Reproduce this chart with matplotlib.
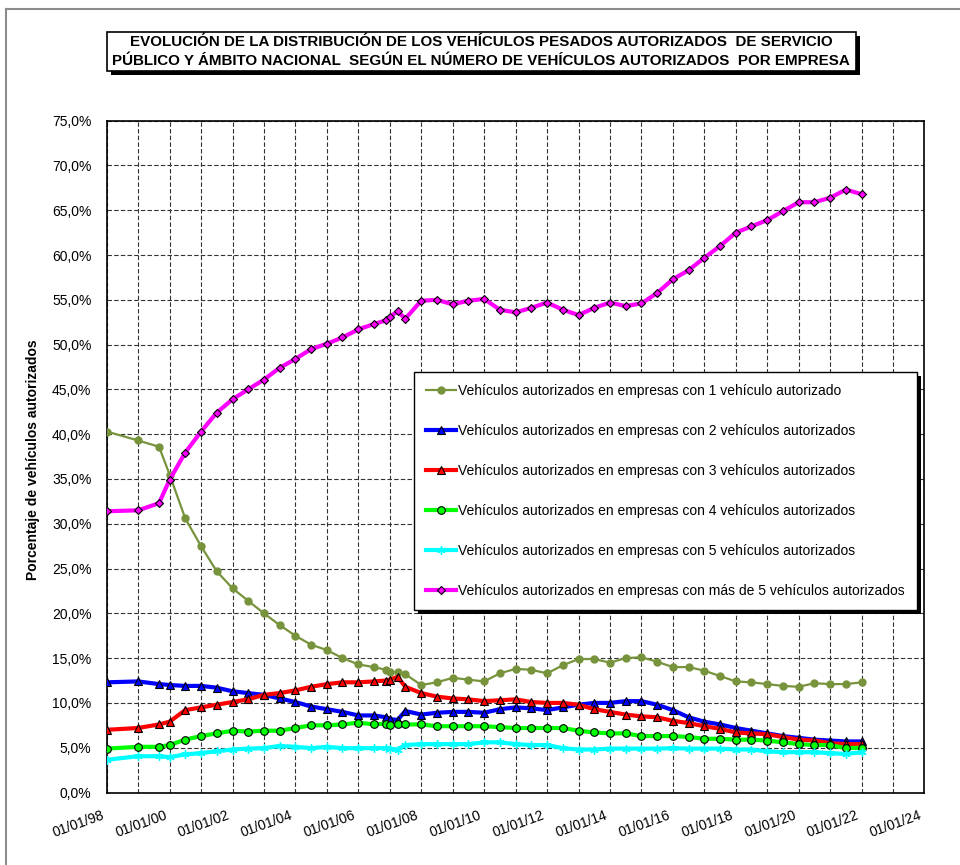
import matplotlib
matplotlib.use("Agg")
import matplotlib.pyplot as plt
import matplotlib.dates as mdates
from matplotlib.patches import Rectangle
from matplotlib.ticker import FuncFormatter, MultipleLocator
from matplotlib.transforms import ScaledTranslation
import pandas as pd

plt.rcParams["font.family"] = ["Liberation Sans", "DejaVu Sans"]

# ---- data ----
fechas = pd.to_datetime([
    "1998-01-01", "1999-01-01", "1999-09-01", "2000-01-01", "2000-07-01",
    "2001-01-01", "2001-07-01", "2002-01-01", "2002-07-01", "2003-01-01",
    "2003-07-01", "2004-01-01", "2004-07-01", "2005-01-01", "2005-07-01",
    "2006-01-01", "2006-07-01", "2006-11-15", "2007-01-01", "2007-04-01",
    "2007-07-01", "2008-01-01", "2008-07-01", "2009-01-01", "2009-07-01",
    "2010-01-01", "2010-07-01", "2011-01-01", "2011-07-01", "2012-01-01",
    "2012-07-01", "2013-01-01", "2013-07-01", "2014-01-01", "2014-07-01",
    "2015-01-01", "2015-07-01", "2016-01-01", "2016-07-01", "2017-01-01",
    "2017-07-01", "2018-01-01", "2018-07-01", "2019-01-01", "2019-07-01",
    "2020-01-01", "2020-07-01", "2021-01-01", "2021-07-01", "2022-01-01",
])

con_1 = [40.3, 39.3, 38.6, 35.5, 30.6, 27.5, 24.7, 22.8, 21.4, 20.0,
         18.7, 17.5, 16.5, 15.9, 15.0, 14.3, 14.0, 13.7, 13.5, 13.4,
         13.2, 12.0, 12.3, 12.8, 12.6, 12.4, 13.3, 13.8, 13.7, 13.3,
         14.2, 14.9, 14.9, 14.5, 15.0, 15.1, 14.6, 14.0, 14.0, 13.6,
         13.0, 12.4, 12.3, 12.1, 11.9, 11.8, 12.2, 12.1, 12.1, 12.3]
con_2 = [12.3, 12.4, 12.1, 12.0, 11.9, 11.9, 11.7, 11.3, 11.1, 10.9,
         10.5, 10.1, 9.6, 9.3, 9.0, 8.6, 8.6, 8.4, 8.2, 8.1,
         9.1, 8.7, 8.9, 9.0, 9.0, 8.9, 9.3, 9.5, 9.4, 9.2,
         9.5, 9.8, 10.0, 10.0, 10.2, 10.2, 9.8, 9.2, 8.4, 7.9,
         7.6, 7.2, 6.9, 6.6, 6.3, 6.1, 5.9, 5.8, 5.7, 5.7]
con_3 = [7.0, 7.2, 7.6, 7.9, 9.2, 9.5, 9.8, 10.1, 10.4, 10.9,
         11.1, 11.4, 11.8, 12.1, 12.3, 12.3, 12.4, 12.5, 12.6, 12.9,
         11.8, 11.1, 10.7, 10.5, 10.4, 10.2, 10.3, 10.4, 10.1, 10.0,
         10.0, 9.8, 9.3, 9.0, 8.7, 8.5, 8.4, 8.0, 7.75, 7.4,
         7.1, 6.7, 6.6, 6.5, 6.2, 5.9, 5.8, 5.5, 5.4, 5.4]
con_4 = [4.9, 5.1, 5.1, 5.3, 5.9, 6.3, 6.6, 6.9, 6.8, 6.9,
         6.9, 7.2, 7.5, 7.5, 7.6, 7.8, 7.6, 7.7, 7.5, 7.6,
         7.6, 7.6, 7.4, 7.4, 7.4, 7.4, 7.3, 7.2, 7.2, 7.2,
         7.2, 6.9, 6.7, 6.6, 6.6, 6.3, 6.3, 6.3, 6.2, 6.0,
         6.0, 5.9, 5.9, 5.8, 5.6, 5.4, 5.3, 5.3, 4.95, 5.0]
con_5 = [3.65, 4.05, 4.05, 3.95, 4.25, 4.4, 4.6, 4.8, 4.9, 4.95,
         5.2, 5.1, 4.95, 5.1, 4.95, 4.95, 4.95, 4.95, 4.9, 4.8,
         5.3, 5.4, 5.4, 5.4, 5.4, 5.6, 5.6, 5.4, 5.3, 5.3,
         4.95, 4.8, 4.8, 4.9, 4.9, 4.9, 4.9, 4.95, 4.9, 4.9,
         4.9, 4.8, 4.8, 4.6, 4.5, 4.5, 4.5, 4.4, 4.3, 4.5]
mas_5 = [31.4, 31.5, 32.3, 34.9, 37.95, 40.3, 42.4, 43.9, 45.0, 46.1,
         47.4, 48.4, 49.5, 50.1, 50.8, 51.7, 52.3, 52.7, 53.1, 53.7,
         52.9, 54.9, 55.0, 54.5, 54.9, 55.1, 53.9, 53.6, 54.1, 54.7,
         53.9, 53.3, 54.1, 54.7, 54.3, 54.6, 55.75, 57.3, 58.3, 59.7,
         61.0, 62.5, 63.2, 63.9, 64.9, 65.9, 65.9, 66.4, 67.3, 66.8]

etiquetas = [
    "Vehículos autorizados en empresas con 1 vehículo autorizado",
    "Vehículos autorizados en empresas con 2 vehículos autorizados",
    "Vehículos autorizados en empresas con 3 vehículos autorizados",
    "Vehículos autorizados en empresas con 4 vehículos autorizados",
    "Vehículos autorizados en empresas con 5 vehículos autorizados",
    "Vehículos autorizados en empresas con más de 5 vehículos autorizados",
]
titulo = ["EVOLUCIÓN DE LA DISTRIBUCIÓN DE LOS VEHÍCULOS PESADOS AUTORIZADOS  DE SERVICIO",
          "PÚBLICO Y ÁMBITO NACIONAL  SEGÚN EL NÚMERO DE VEHÍCULOS AUTORIZADOS  POR EMPRESA"]

W, H = 960, 865
def fx(px):
    return px / W
def fy(py):
    return 1 - py / H

fig = plt.figure(figsize=(9.6, 8.65), dpi=100)
ax = fig.add_axes([fx(106.7), fy(792.5), (924.5 - 106.7) / W, (792.5 - 120.7) / H])

# series
ax.plot(fechas, con_1, color="#77933C", lw=1.6, marker="o", ms=5,
        mfc="#77933C", mec="#77933C", label=etiquetas[0], zorder=3)
ax.plot(fechas, con_2, color="#0000FF", lw=3, marker="^", ms=5.5,
        mfc="#0000FF", mec="black", mew=0.8, label=etiquetas[1], zorder=3)
ax.plot(fechas, con_3, color="#FF0000", lw=3, marker="^", ms=5.5,
        mfc="#FF0000", mec="black", mew=0.8, label=etiquetas[2], zorder=3)
ax.plot(fechas, con_4, color="#00FF00", lw=3, marker="o", ms=5.5,
        mfc="#00FF00", mec="black", mew=0.8, label=etiquetas[3], zorder=3)
ax.plot(fechas, con_5, color="#00FFFF", lw=3, marker=(6, 2, 0), ms=6,
        mfc="#00FFFF", mec="#00FFFF", mew=1, label=etiquetas[4], zorder=3)
ax.plot(fechas, mas_5, color="#FF00FF", lw=3, marker="D", ms=4.5,
        mfc="#FF00FF", mec="black", mew=0.8, label=etiquetas[5], zorder=3)

# axes
ax.set_xlim(pd.Timestamp("1998-01-01"), pd.Timestamp("2024-01-01"))
ax.set_ylim(0, 75)
ax.xaxis.set_major_locator(mdates.YearLocator(2))
ax.xaxis.set_minor_locator(mdates.YearLocator(1))
ax.xaxis.set_major_formatter(mdates.DateFormatter("%d/%m/%y"))
ax.yaxis.set_major_locator(MultipleLocator(5))
ax.yaxis.set_major_formatter(FuncFormatter(lambda v, p: f"{v:.1f}%".replace(".", ",")))
ax.grid(which="both", axis="x", color="#333333", lw=0.8, ls=(0, (4, 2)))
ax.grid(which="major", axis="y", color="#333333", lw=0.8, ls=(0, (4, 2)))
ax.set_axisbelow(True)
ax.tick_params(axis="both", which="both", length=0)
ax.tick_params(axis="y", labelsize=10, pad=11)
ax.tick_params(axis="x", labelsize=10, pad=11)
for lab in ax.get_xticklabels():
    lab.set_rotation(20)
    lab.set_ha("right")
    lab.set_va("top")
    lab.set_rotation_mode("anchor")
    lab.set_transform(lab.get_transform() + ScaledTranslation(-4 / 72, 0, fig.dpi_scale_trans))
for s in ax.spines.values():
    s.set_color("black")
    s.set_linewidth(1.2)
fig.text(fx(33), fy(460), "Porcentaje de vehículos autorizados", rotation=90,
         ha="center", va="center", fontsize=10, fontweight="bold")

# legend with shadow (figure level so the shadow can sit under it)
handles, labels = ax.get_legend_handles_labels()
leg = fig.legend(handles, labels, loc="upper left", bbox_to_anchor=(fx(414), fy(371.7)),
                 bbox_transform=fig.transFigure, borderaxespad=0, fontsize=10,
                 frameon=True, fancybox=False, edgecolor="black", framealpha=1,
                 handlelength=2.2, handletextpad=0.15, labelspacing=1.88,
                 borderpad=0.85)
leg.get_frame().set_linewidth(1.0)
leg.set_zorder(10)

# title box with shadow
fig.add_artist(Rectangle((fx(110.7), fy(75)), (856 - 106.7) / W, (71 - 31.7) / H,
                         transform=fig.transFigure, fc="black", ec="none", zorder=1))
fig.add_artist(Rectangle((fx(106.7), fy(71)), (856 - 106.7) / W, (71 - 31.7) / H,
                         transform=fig.transFigure, fc="white", ec="black", lw=1.2, zorder=2))
fig.text(fx(481), fy(42.3), titulo[0], ha="center", va="center", fontsize=10.9,
         fontweight="bold", zorder=3)
fig.text(fx(481), fy(61), titulo[1], ha="center", va="center", fontsize=10.9,
         fontweight="bold", zorder=3)

# chart-area border (gray)
fig.add_artist(plt.Line2D([fx(6), 1], [fy(9), fy(9)], transform=fig.transFigure,
                          color="#8c8c8c", lw=1.5))
fig.add_artist(plt.Line2D([fx(6), fx(6)], [fy(9), 0], transform=fig.transFigure,
                          color="#8c8c8c", lw=1.5))

# shadow under the legend, sized from the drawn legend box
fig.canvas.draw()
bb = leg.get_window_extent().transformed(fig.transFigure.inverted())
fig.add_artist(Rectangle((bb.x0 + 4 / W, bb.y0 - 4 / H), bb.width, bb.height,
                         transform=fig.transFigure, fc="black", ec="none", zorder=9))

fig.savefig("out.png", dpi=100, facecolor="white")
